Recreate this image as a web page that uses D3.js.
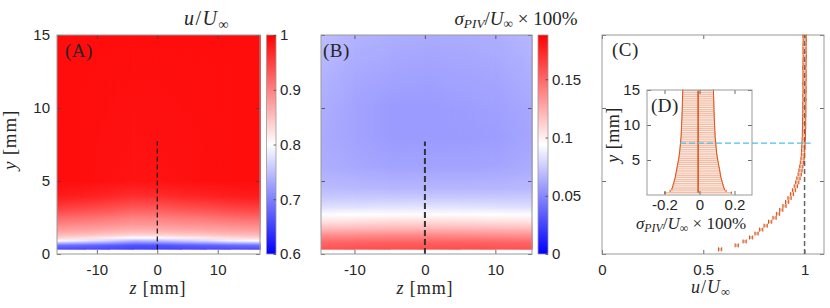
<!DOCTYPE html>
<html>
<head>
<meta charset="utf-8">
<script src="https://cdn.jsdelivr.net/npm/d3@7"></script>
<style>
  body { margin: 0; background: #fff; }
  text { fill: #262626; }
  .tick text { font: 15px "Liberation Sans", Arial, sans-serif; fill: #262626; }
  .tick line { stroke: #444; stroke-width: 0.8; }
  .math { font-family: "Liberation Serif", "Times New Roman", serif; }
</style>
</head>
<body>
<svg id="fig" width="830" height="308"></svg>
<script>
// ---- data ----

// (A) mean velocity map u/U_inf, one column of values per z station, rows at heatYA (mm)
const zA = [-16.6, -12, -8, -4, 0, 4, 8, 12, 17]
const heatYA = [0.3, 0.6, 0.9, 1.1, 1.3, 1.6, 2.0, 2.5, 3.0, 3.5, 4.0, 5.0, 15]
const uMap = [
  [0.655, 0.690, 0.800, 0.835, 0.855, 0.875, 0.895, 0.920, 0.945, 0.965, 0.980, 0.990, 0.990],
  [0.653, 0.683, 0.782, 0.825, 0.849, 0.871, 0.891, 0.914, 0.939, 0.959, 0.976, 0.989, 0.990],
  [0.652, 0.675, 0.764, 0.814, 0.843, 0.866, 0.886, 0.908, 0.933, 0.953, 0.971, 0.987, 0.990],
  [0.650, 0.665, 0.740, 0.800, 0.835, 0.860, 0.880, 0.900, 0.925, 0.945, 0.965, 0.985, 0.990],
  [0.650, 0.665, 0.745, 0.802, 0.836, 0.861, 0.881, 0.901, 0.926, 0.946, 0.966, 0.985, 0.990],
  [0.652, 0.673, 0.758, 0.811, 0.841, 0.865, 0.885, 0.906, 0.931, 0.951, 0.970, 0.987, 0.990],
  [0.653, 0.678, 0.770, 0.818, 0.845, 0.868, 0.888, 0.910, 0.935, 0.955, 0.973, 0.988, 0.990],
  [0.654, 0.685, 0.788, 0.828, 0.851, 0.872, 0.892, 0.916, 0.941, 0.961, 0.977, 0.989, 0.990],
  [0.655, 0.690, 0.800, 0.835, 0.855, 0.875, 0.895, 0.920, 0.945, 0.965, 0.980, 0.990, 0.990]
]

// (B) PIV uncertainty map sigma/U_inf x 100%
const zB = [-14.75, -10, -5, 0, 5, 10, 15.2]
const heatYB = [0.3, 0.8, 1.3, 1.7, 2.2, 2.7, 3.2, 3.8, 4.5, 6, 8, 10, 12, 15]
const sigMap = [
  [0.158, 0.150, 0.135, 0.120, 0.105, 0.093, 0.083, 0.075, 0.069, 0.064, 0.063, 0.064, 0.066, 0.070],
  [0.159, 0.151, 0.136, 0.121, 0.106, 0.094, 0.083, 0.075, 0.068, 0.062, 0.060, 0.060, 0.062, 0.066],
  [0.160, 0.152, 0.137, 0.122, 0.108, 0.095, 0.084, 0.075, 0.067, 0.060, 0.057, 0.057, 0.060, 0.064],
  [0.160, 0.152, 0.137, 0.122, 0.108, 0.095, 0.084, 0.075, 0.067, 0.060, 0.057, 0.057, 0.059, 0.063],
  [0.160, 0.152, 0.136, 0.122, 0.107, 0.095, 0.084, 0.075, 0.067, 0.060, 0.057, 0.058, 0.060, 0.063],
  [0.159, 0.151, 0.135, 0.121, 0.106, 0.094, 0.083, 0.075, 0.067, 0.061, 0.058, 0.059, 0.061, 0.064],
  [0.158, 0.150, 0.134, 0.120, 0.105, 0.093, 0.082, 0.075, 0.068, 0.063, 0.061, 0.062, 0.064, 0.067]
]

// (C) profile at z = 0 and (D) its PIV uncertainty
const profY = [0.32, 0.59, 0.86, 1.13, 1.40, 1.67, 1.94, 2.21, 2.48, 2.75,
  3.02, 3.29, 3.56, 3.83, 4.10, 4.37, 4.64, 4.91, 5.18, 5.45,
  5.72, 5.99, 6.26, 6.53, 6.80, 7.07, 7.34, 7.61, 7.88, 8.15,
  8.42, 8.69, 8.96, 9.23, 9.50, 9.77, 10.04, 10.31, 10.58, 10.85,
  11.12, 11.39, 11.66, 11.93, 12.20, 12.47, 12.74, 13.01, 13.28, 13.55,
  13.82, 14.09, 14.36, 14.63, 14.90]
const profU = [0.583, 0.665, 0.704, 0.736, 0.763, 0.786, 0.808, 0.830, 0.852, 0.869,
  0.885, 0.901, 0.914, 0.926, 0.938, 0.948, 0.957, 0.964, 0.970, 0.976,
  0.980, 0.984, 0.987, 0.990, 0.992, 0.993, 0.994, 0.995, 0.996, 0.997,
  0.997, 0.998, 0.998, 0.998, 0.999, 0.999, 0.999, 0.999, 1.000, 0.999,
  1.000, 1.000, 0.999, 1.000, 1.000, 1.000, 0.999, 1.000, 1.000, 1.001,
  1.000, 1.000, 1.000, 1.001, 1.000]
const profSig = [0.190, 0.160, 0.150, 0.146, 0.143, 0.140, 0.137, 0.134, 0.131, 0.129,
  0.127, 0.125, 0.123, 0.121, 0.119, 0.117, 0.115, 0.113, 0.111, 0.109,
  0.108, 0.106, 0.105, 0.104, 0.103, 0.102, 0.101, 0.100, 0.099, 0.098,
  0.097, 0.097, 0.096, 0.096, 0.095, 0.095, 0.094, 0.094, 0.093, 0.093,
  0.092, 0.092, 0.092, 0.091, 0.091, 0.091, 0.090, 0.090, 0.090, 0.089,
  0.089, 0.089, 0.088, 0.088, 0.088]
const sigCentre = -0.008
const profZ = 0        // spanwise station of the profile
const profTop = 7.7    // dashed marker top in (A)/(B)
const deltaY = 7.6     // cyan line height

const uTicks = [0.6, 0.7, 0.8, 0.9, 1]
const sigTicks = [0, 0.05, 0.1, 0.15]

// ---- setup ----
const svg = d3.select('#fig')
const defs = svg.append('defs')
const orange = '#D95319'
const yMM = d3.scaleLinear().domain([0, 15]).range([254, 35])

const xA = d3.scaleLinear().domain([-16.6, 17]).range([57, 260])
const xB = d3.scaleLinear().domain([-14.75, 15.2]).range([321, 532])
const xC = d3.scaleLinear().domain([0, 1.096]).range([602, 824])
const xD = d3.scaleLinear().domain([-0.3, 0.3]).range([647, 752])
const yD = d3.scaleLinear().domain([0, 15]).range([195, 90])

const cA = d3.scaleLinear().domain([0.6, 0.8, 1.0]).range(['#0000ff', '#ffffff', '#ff0000']).clamp(true)
const cB = d3.scaleLinear().domain([0, 0.094, 0.188]).range(['#0000ff', '#ffffff', '#ff0000']).clamp(true)

// heat map: vertical gradient per z column, blended into the next column with a fading mask
const drawHeat = (id, x, zs, ys, field, color) => {
  const g = svg.append('g')
  const yTop = yMM(ys[ys.length - 1]), yBot = yMM(ys[0])
  zs.forEach((z, i) => {
    const grad = defs.append('linearGradient').attr('id', `${id}c${i}`)
      .attr('gradientUnits', 'userSpaceOnUse')
      .attr('x1', 0).attr('x2', 0).attr('y1', yBot).attr('y2', yTop)
    field[i].forEach((v, j) => grad.append('stop')
      .attr('offset', (ys[j] - ys[0]) / (ys[ys.length - 1] - ys[0]))
      .attr('stop-color', color(v)))
  })
  for (let i = 0; i < zs.length - 1; i++) {
    const xa = x(zs[i]), xb = x(zs[i + 1])
    const fade = defs.append('linearGradient').attr('id', `${id}f${i}`)
      .attr('gradientUnits', 'userSpaceOnUse')
      .attr('x1', xa).attr('x2', xb).attr('y1', 0).attr('y2', 0)
    fade.append('stop').attr('offset', 0).attr('stop-color', '#000')
    fade.append('stop').attr('offset', 1).attr('stop-color', '#fff')
    defs.append('mask').attr('id', `${id}m${i}`).attr('maskUnits', 'userSpaceOnUse')
      .append('rect').attr('x', xa - 1).attr('y', yTop).attr('width', xb - xa + 2).attr('height', yBot - yTop)
      .attr('fill', `url(#${id}f${i})`)
    g.append('rect').attr('x', xa).attr('y', yTop).attr('width', xb - xa + 0.6).attr('height', yBot - yTop)
      .attr('fill', `url(#${id}c${i})`)
    g.append('rect').attr('x', xa).attr('y', yTop).attr('width', xb - xa + 0.6).attr('height', yBot - yTop)
      .attr('fill', `url(#${id}c${i + 1})`).attr('mask', `url(#${id}m${i})`)
  }
}

const frame = (x, y, xTicks, yTicks, yLabels, padX = 10) => {
  const [x0, x1] = x.range(), [yb, yt] = y.range()
  const fmt = d => d
  svg.append('g').attr('transform', `translate(0,${yb})`)
    .call(d3.axisBottom(x).tickValues(xTicks).tickSizeInner(-4).tickSizeOuter(0).tickPadding(padX).tickFormat(fmt))
  svg.append('g').attr('transform', `translate(0,${yt})`)
    .call(d3.axisTop(x).tickValues(xTicks).tickSizeInner(-4).tickSizeOuter(0).tickFormat(''))
  svg.append('g').attr('transform', `translate(${x0},0)`)
    .call(d3.axisLeft(y).tickValues(yTicks).tickSizeInner(-4).tickSizeOuter(0).tickPadding(7)
      .tickFormat(yLabels ? fmt : ''))
  svg.append('g').attr('transform', `translate(${x1},0)`)
    .call(d3.axisRight(y).tickValues(yTicks).tickSizeInner(-4).tickSizeOuter(0).tickFormat(''))
  svg.selectAll('.domain').remove()
  svg.append('rect').attr('x', x0).attr('y', yt).attr('width', x1 - x0).attr('height', yb - yt)
    .attr('fill', 'none').attr('stroke', '#999').attr('stroke-width', 1)
}

const colorbar = (id, x, w, scale, ticks) => {
  const cy = d3.scaleLinear().domain([scale.domain()[0], scale.domain()[2]]).range([254, 35])
  const grad = defs.append('linearGradient').attr('id', id)
    .attr('x1', 0).attr('x2', 0).attr('y1', 1).attr('y2', 0)
  scale.domain().forEach((d, i) => grad.append('stop')
    .attr('offset', i / 2).attr('stop-color', scale.range()[i]))
  svg.append('rect').attr('x', x).attr('y', 35).attr('width', w).attr('height', 219)
    .attr('fill', `url(#${id})`).attr('stroke', '#999').attr('stroke-width', 0.8)
  svg.append('g').attr('transform', `translate(${x + w},0)`)
    .call(d3.axisRight(cy).tickValues(ticks).tickSizeInner(-2.5).tickSizeOuter(0).tickPadding(4).tickFormat(d => d))
    .select('.domain').remove()
}

// math text: parts are [string, style] with style 'i' italic, 's' italic subscript, 'sr' roman subscript, 'r' roman
const mathText = (x, y, parts, size, rotate, spacing = 0) => {
  const t = svg.append('text').attr('class', 'math')
    .attr('text-anchor', 'middle').style('font-size', `${size}px`).style('letter-spacing', `${spacing}px`)
    .attr('transform', `translate(${x},${y})` + (rotate ? ' rotate(-90)' : ''))
  parts.forEach(([s, st]) => {
    const ts = t.append('tspan').text(s)
    if (st === 'i' || st === 's') ts.style('font-style', 'italic')
    if (st === 's' || st === 'sr') ts.style('font-size', '0.7em').attr('baseline-shift', '-0.25em')
  })
  return t
}

// ---- (A) ----
drawHeat('ha', xA, zA, heatYA, uMap, cA)
svg.append('line').attr('x1', xA(profZ)).attr('x2', xA(profZ)).attr('y1', yMM(heatYA[0])).attr('y2', yMM(profTop))
  .attr('stroke', '#111').attr('stroke-width', 1.2).attr('stroke-dasharray', '5,3')
frame(xA, yMM, [-10, 0, 10], [0, 5, 10, 15], true)
colorbar('cbA', 266.5, 9.5, cA, uTicks)

// ---- (B) ----
drawHeat('hb', xB, zB, heatYB, sigMap, cB)
svg.append('line').attr('x1', xB(profZ)).attr('x2', xB(profZ)).attr('y1', yMM(0)).attr('y2', yMM(profTop))
  .attr('stroke', '#333').attr('stroke-width', 2).attr('stroke-dasharray', '6,3')
frame(xB, yMM, [-10, 0, 10], [0, 5, 10, 15], false)
colorbar('cbB', 538, 10, cB, sigTicks)

// ---- (C) ----
frame(xC, yMM, [0, 0.5, 1], [0, 5, 10, 15], false)
svg.append('line').attr('x1', xC(1)).attr('x2', xC(1)).attr('y1', yMM(0)).attr('y2', yMM(15))
  .attr('stroke', '#666').attr('stroke-width', 1.5).attr('stroke-dasharray', '5,3')
const prof = profY.map((y, i) => ({ y, u: profU[i], s: profSig[i] }))
const errU = 0.008
const gC = svg.append('g')
gC.selectAll('line.bar').data(prof).join('line').attr('class', 'bar')
  .attr('x1', d => xC(d.u - errU)).attr('x2', d => xC(d.u + errU))
  .attr('y1', d => yMM(d.y)).attr('y2', d => yMM(d.y))
  .attr('stroke', orange).attr('stroke-opacity', 0.4).attr('stroke-width', 3)
;[-1, 1].forEach(sgn => gC.append('g').selectAll('line').data(prof).join('line')
  .attr('x1', d => xC(d.u + sgn * errU)).attr('x2', d => xC(d.u + sgn * errU))
  .attr('y1', d => yMM(d.y) - 2).attr('y2', d => yMM(d.y) + 2)
  .attr('stroke', orange).attr('stroke-width', 1))

// ---- (D) inset ----
svg.append('rect').attr('x', 647).attr('y', 90).attr('width', 105).attr('height', 105).attr('fill', '#fff')
const gD = svg.append('g')
gD.selectAll('line.bar').data(prof).join('line').attr('class', 'bar')
  .attr('x1', d => xD(sigCentre - d.s)).attr('x2', d => xD(sigCentre + d.s))
  .attr('y1', d => yD(d.y)).attr('y2', d => yD(d.y))
  .attr('stroke', orange).attr('stroke-opacity', 0.38).attr('stroke-width', 1.3)
;[-1, 1].forEach(sgn => gD.append('g').selectAll('line').data(prof).join('line')
  .attr('x1', d => xD(sigCentre + sgn * d.s)).attr('x2', d => xD(sigCentre + sgn * d.s))
  .attr('y1', d => yD(d.y) - 1.2).attr('y2', d => yD(d.y) + 1.2)
  .attr('stroke', orange).attr('stroke-width', 1))
gD.append('path').datum(prof)
  .attr('d', d3.line().x(() => xD(sigCentre)).y(d => yD(d.y)))
  .attr('fill', 'none').attr('stroke', orange).attr('stroke-width', 1.5)
frame(xD, yD, [-0.2, 0, 0.2], [5, 10, 15], true, 4)
svg.append('line').attr('x1', xC(0.385)).attr('x2', xC(1.03)).attr('y1', yMM(deltaY)).attr('y2', yMM(deltaY))
  .attr('stroke', '#4DBEEE').attr('stroke-width', 1.2).attr('stroke-dasharray', '6,3')

// ---- labels ----
const pLab = (x, y, s) => svg.append('text').attr('class', 'math').attr('x', x).attr('y', y)
  .style('font-size', '19px').style('letter-spacing', '0.5px').text(s)
pLab(65, 57, '(A)')
pLab(323, 57, '(B)')
pLab(612, 56, '(C)')
pLab(651, 112, '(D)')

mathText(207, 25, [['u', 'i'], ['/', 'r'], ['U', 'i'], ['∞', 'sr']], 20, false, 1.5)
mathText(516, 25, [['σ', 'i'], ['PIV', 's'], ['/', 'r'], ['U', 'i'], ['∞', 'sr'], [' × 100%', 'r']], 19)
mathText(158, 294, [['z', 'i'], [' [mm]', 'r']], 18, false, 0.9)
mathText(425, 294, [['z', 'i'], [' [mm]', 'r']], 18, false, 0.9)
mathText(16, 140, [['y', 'i'], [' [mm]', 'r']], 19, true, 0.8)
mathText(711, 293, [['u', 'i'], ['/', 'r'], ['U', 'i'], ['∞', 'sr']], 18, false, 1)
mathText(619, 135, [['y', 'i'], [' [mm]', 'r']], 18, true, 0.5)
mathText(691, 229, [['σ', 'i'], ['PIV', 's'], ['/', 'r'], ['U', 'i'], ['∞', 'sr'], [' × 100%', 'r']], 17)
</script>
</body>
</html>
